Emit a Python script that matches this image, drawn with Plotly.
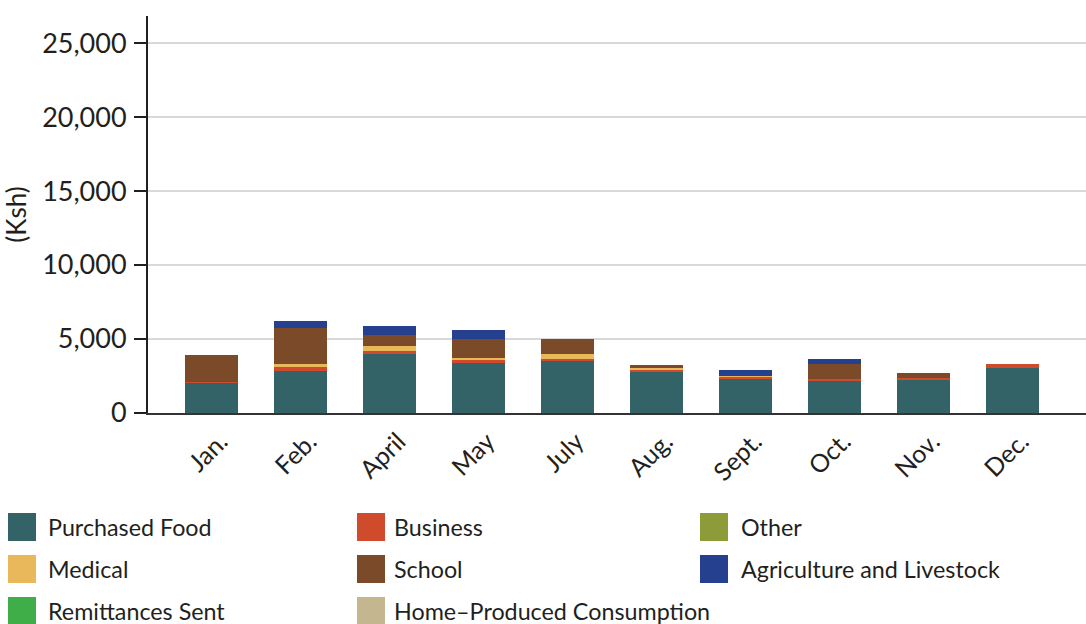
import plotly.graph_objects as go

months = ["Jan.", "Feb.", "April", "May", "July", "Aug.", "Sept.", "Oct.", "Nov.", "Dec."]

purchased_food = [2050, 2870, 4020, 3390, 3550, 2800, 2330, 2130, 2260, 3010]
business       = [70,   270,  200,  160,  90,   90,   150,  200,  135,  270]
other          = [0,    0,    0,    0,    0,    0,    0,    0,    0,    0]
medical        = [0,    200,  340,  200,  380,  180,  50,   0,    0,    0]
school         = [1770, 2430, 740,  1220, 950,  200,  0,    950,  340,  0]
agriculture    = [0,    470,  610,  610,  0,    0,    400,  340,  0,    0]
remittances    = [0,    0,    0,    0,    0,    0,    0,    0,    0,    0]
home_produced  = [0,    0,    0,    0,    0,    0,    0,    0,    0,    0]

series_names = ["Purchased Food", "Business", "Other", "Medical", "School",
                "Agriculture and Livestock", "Remittances Sent", "Home\u2013Produced Consumption"]
series_values = [purchased_food, business, other, medical, school,
                 agriculture, remittances, home_produced]
series_colors = ["#336366", "#d04a2c", "#8d9b38", "#e8b85a", "#7b4a29",
                 "#25408f", "#3fae49", "#c4b68e"]

y_ticks = [0, 5000, 10000, 15000, 20000, 25000]
y_ticktext = ["0", "5,000", "10,000", "15,000", "20,000", "25,000"]

FONT = "Lato, 'Noto Sans', sans-serif"
TXT = "#231f20"

fig = go.Figure()
for name, vals, col in zip(series_names, series_values, series_colors):
    fig.add_trace(go.Bar(x=months, y=vals, name=name, marker_color=col,
                         marker_line_width=0, width=0.6, showlegend=False))

W, H = 1086, 624
L, R, T, B = 148, 0, 16, 211
pw, ph = W - L - R, H - T - B

def px_to_paper(x, y):
    return (x - L) / pw, (H - B - y) / ph

# manual legend grid (3 columns, row-major)
col_sw = [8, 357, 700]
col_tx = [46, 392, 739]
row_y = [527, 569, 611]
sw = 28
for i, (name, col) in enumerate(zip(series_names, series_colors)):
    r, c = divmod(i, 3)
    x0, y0 = px_to_paper(col_sw[c], row_y[r] - sw / 2)
    x1, y1 = px_to_paper(col_sw[c] + sw, row_y[r] + sw / 2)
    fig.add_shape(type="rect", xref="paper", yref="paper", x0=x0, x1=x1, y0=y1, y1=y0,
                  fillcolor=col, line_width=0)
    tx, ty = px_to_paper(col_tx[c], row_y[r])
    fig.add_annotation(xref="paper", yref="paper", x=tx, y=ty, text=name,
                       showarrow=False, xanchor="left", yanchor="middle",
                       font=dict(family=FONT, size=23.3, color=TXT))

fig.update_layout(
    width=W, height=H,
    margin=dict(l=L, r=R, t=T, b=B, pad=0),
    barmode="stack", bargap=0.4,
    plot_bgcolor="white", paper_bgcolor="white",
    font=dict(family=FONT, color=TXT),
    showlegend=False,
    xaxis=dict(range=[-0.713, 9.826], showgrid=False, tickangle=-45, automargin=False,
               tickfont=dict(size=25, color=TXT), ticks="", showline=True,
               ticklabelshift=9, ticklabelstandoff=2,
               linecolor="#333333", linewidth=2),
    yaxis=dict(range=[0, 26830], tickvals=y_ticks, ticktext=y_ticktext, automargin=False,
               tickfont=dict(size=27, color=TXT), ticks="outside", ticklen=12,
               tickwidth=2, tickcolor="#231f20", showline=True, linecolor="#231f20",
               linewidth=2, gridcolor="#d9d9d9", gridwidth=2, zeroline=False,
               ticklabelstandoff=2,
               title=dict(text="(Ksh)", font=dict(size=26, color=TXT), standoff=9)),
)

fig.write_html("out.html", config={"displayModeBar": False},
               post_script="document.body.style.margin='0px';document.body.style.padding='0px';")
